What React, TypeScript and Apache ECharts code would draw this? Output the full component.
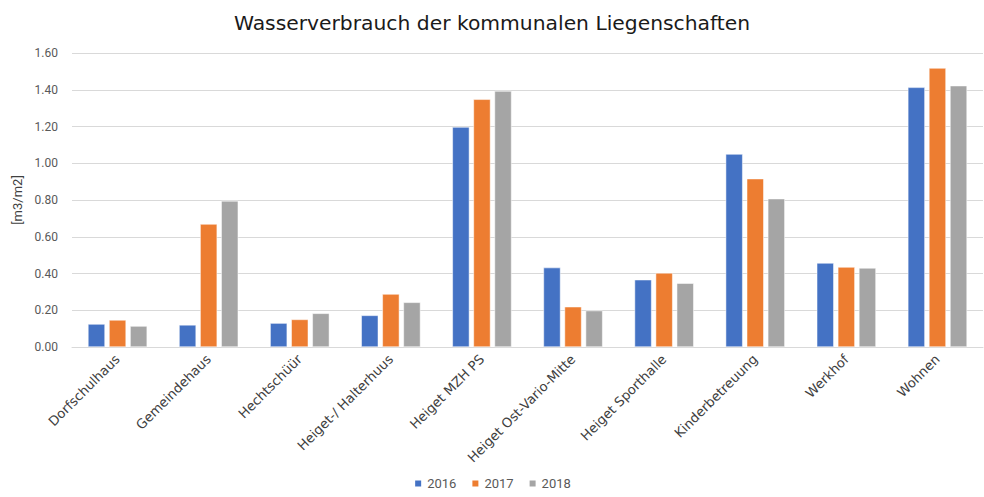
import React, { useEffect, useRef } from "react";
import * as echarts from "echarts";

const categories = [
  "Dorfschulhaus",
  "Gemeindehaus",
  "Hechtschüür",
  "Heiget-/ Halterhuus",
  "Heiget MZH PS",
  "Heiget Ost-Vario-Mitte",
  "Heiget Sporthalle",
  "Kinderbetreuung",
  "Werkhof",
  "Wohnen",
];
const values2016 = [0.125, 0.12, 0.13, 0.172, 1.197, 0.432, 0.366, 1.05, 0.457, 1.413];
const values2017 = [0.147, 0.669, 0.15, 0.288, 1.348, 0.219, 0.403, 0.916, 0.435, 1.518];
const values2018 = [0.114, 0.795, 0.183, 0.243, 1.393, 0.198, 0.347, 0.807, 0.43, 1.422];
const seriesNames = ["2016", "2017", "2018"];
const colors = ["#4472C4", "#ED7D31", "#A5A5A5"];

const FONT = "Roboto, 'DejaVu Sans', sans-serif";
const WIDE = "'DejaVu Sans', sans-serif";

export default function App() {
  const ref = useRef<HTMLDivElement>(null);
  useEffect(() => {
    if (!ref.current) return;
    const chart = echarts.init(ref.current, null, { renderer: "svg" });
    const data = [values2016, values2017, values2018];
    chart.setOption({
      animation: false,
      textStyle: { fontFamily: FONT },
      title: {
        text: "Wasserverbrauch der kommunalen Liegenschaften",
        left: "center",
        top: 8,
        textStyle: { fontSize: 20.3, fontWeight: "normal", color: "#1a1a1a", fontFamily: WIDE },
      },
      legend: {
        bottom: 2,
        left: "center",
        itemWidth: 8,
        itemHeight: 8,
        itemGap: 14,
        icon: "rect",
        textStyle: { fontSize: 13, color: "#595959", fontFamily: FONT },
        data: seriesNames,
      },
      grid: { left: 72, right: 1, top: 53, bottom: 150, containLabel: false },
      xAxis: {
        type: "category",
        data: categories,
        axisLine: { lineStyle: { color: "#D9D9D9", width: 1 } },
        axisTick: { show: false },
        axisLabel: {
          rotate: 45,
          interval: 0,
          fontSize: 13.2,
          color: "#404040",
          margin: 10,
          fontFamily: WIDE,
        },
      },
      yAxis: {
        type: "value",
        min: 0,
        max: 1.6,
        interval: 0.2,
        name: "[m3/m2]",
        nameLocation: "middle",
        nameGap: 46,
        nameRotate: 90,
        nameTextStyle: { fontSize: 13, color: "#404040", fontFamily: FONT },
        axisLine: { show: false },
        axisTick: { show: false },
        axisLabel: {
          formatter: (v: number) => v.toFixed(2),
          fontSize: 12,
          color: "#595959",
          margin: 14,
          fontFamily: FONT,
        },
        splitLine: { lineStyle: { color: "#D9D9D9", width: 1 } },
      },
      series: seriesNames.map((name, i) => ({
        name,
        type: "bar",
        data: data[i],
        barWidth: 17,
        barGap: "24%",
        itemStyle: { color: colors[i], borderColor: "#ffffff", borderWidth: 0.5 },
      })),
    });
    return () => chart.dispose();
  }, []);
  return <div ref={ref} style={{ width: 984, height: 497, position: "absolute", left: 0, top: 0 }} />;
}
